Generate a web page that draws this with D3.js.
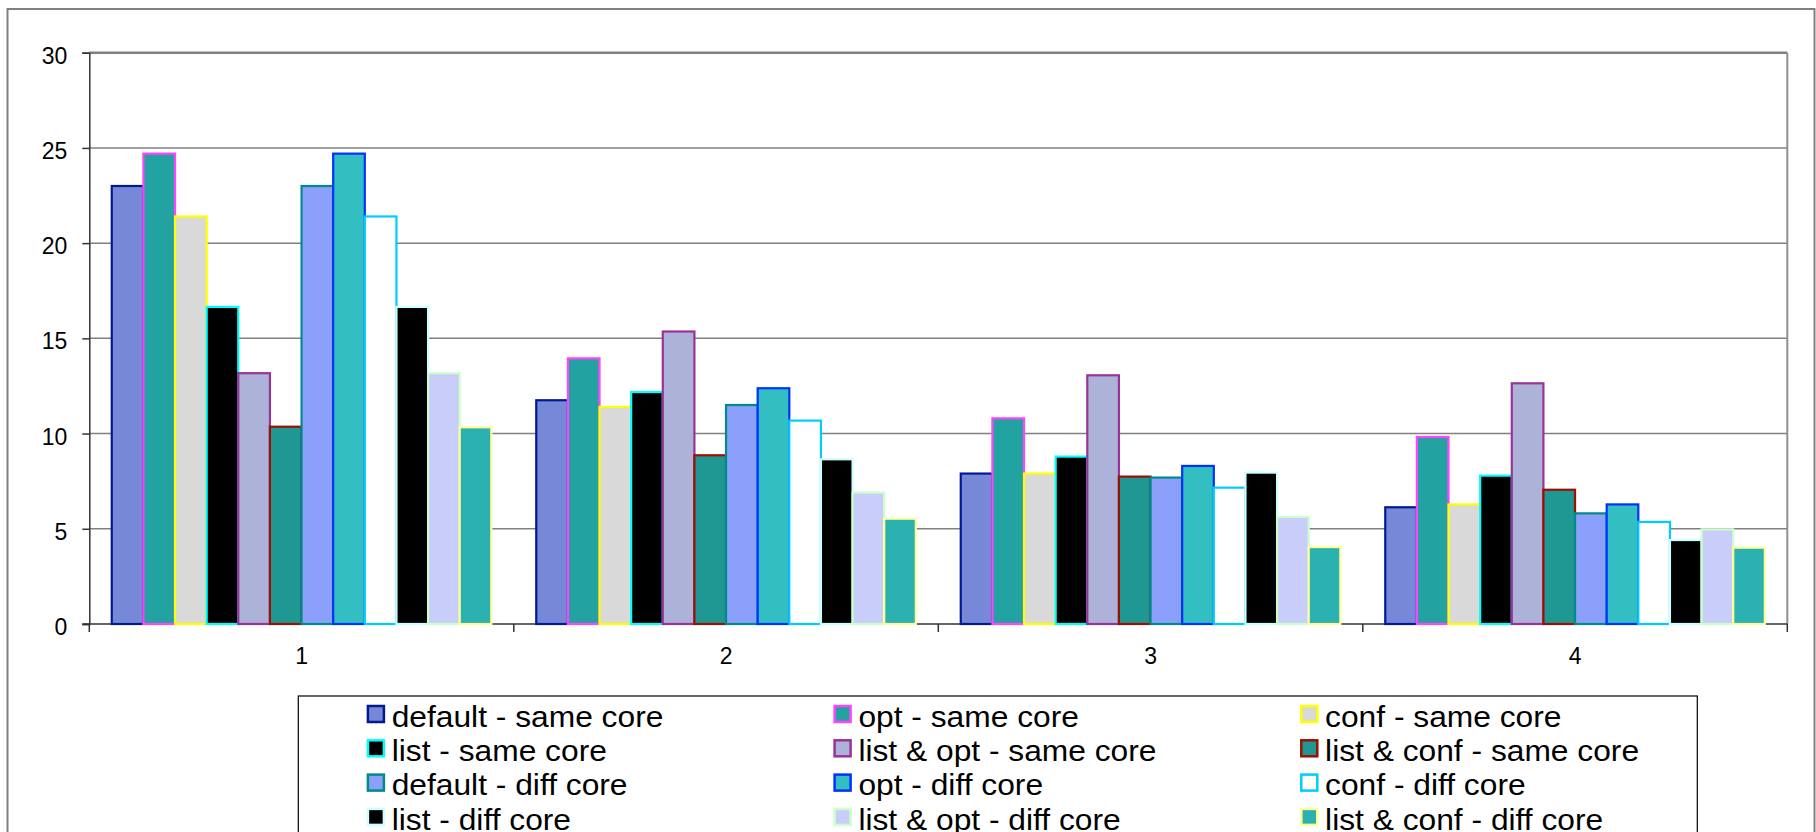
<!DOCTYPE html>
<html>
<head>
<meta charset="utf-8">
<script src="https://cdn.jsdelivr.net/npm/d3@7"></script>
<style>
  html, body { margin: 0; padding: 0; background: #fff; }
  svg { display: block; }
  text { font-family: "Liberation Sans", Arial, sans-serif; fill: #000; }
</style>
</head>
<body>
<svg id="chart" width="1816" height="832"></svg>
<script>
// Categories along the x axis
const categories = ["1", "2", "3", "4"];

// Series names (legend order)
const seriesNames = [
  "default - same core", "opt - same core", "conf - same core",
  "list - same core", "list & opt - same core", "list & conf - same core",
  "default - diff core", "opt - diff core", "conf - diff core",
  "list - diff core", "list & opt - diff core", "list & conf - diff core"
];

// Values per series, one entry per category
const defaultSame  = [23.0, 11.75, 7.9, 6.13];
const optSame      = [24.7, 13.95, 10.8, 9.82];
const confSame     = [21.4, 11.4, 7.9, 6.28];
const listSame     = [16.65, 12.18, 8.79, 7.79];
const listOptSame  = [13.17, 15.36, 13.06, 12.64];
const listConfSame = [10.36, 8.86, 7.74, 7.05];
const defaultDiff  = [23.0, 11.5, 7.69, 5.81];
const optDiff      = [24.7, 12.38, 8.3, 6.28];
const confDiff     = [21.4, 10.68, 7.16, 5.36];
const listDiff     = [16.65, 8.65, 7.95, 4.41];
const listOptDiff  = [13.17, 6.9, 5.62, 4.97];
const listConfDiff = [10.33, 5.53, 4.04, 4.01];

const seriesValues = [
  defaultSame, optSame, confSame, listSame, listOptSame, listConfSame,
  defaultDiff, optDiff, confDiff, listDiff, listOptDiff, listConfDiff
];

// Fill and border colour of each series
const fills = ["#7888d8", "#22a3a1", "#d9d9d9", "#000000", "#adb2d9", "#1f9894",
               "#8aa0fa", "#33bfc1", "#ffffff", "#000000", "#c9cdfa", "#2cb1b1"];
const strokes = ["#001a90", "#ff44ff", "#ffff00", "#00ffff", "#993399", "#991100",
                 "#008b8b", "#0033ff", "#00ccff", "#ccffff", "#ccffcc", "#ffff99"];

// Y axis ticks
const yTicks = [0, 5, 10, 15, 20, 25, 30];

const svg = d3.select("#chart");

// Outer chart frame
svg.append("rect")
  .attr("x", 7.5).attr("y", 9)
  .attr("width", 1807).attr("height", 900)
  .attr("fill", "#fff").attr("stroke", "#808080").attr("stroke-width", 2);

const plot = { left: 89.3, right: 1787.3, top: 52.7, bottom: 624 };

const x0 = d3.scaleBand().domain(categories).range([plot.left, plot.right]).padding(0);
const x1 = d3.scaleBand().domain(d3.range(seriesNames.length))
  .range([0, x0.bandwidth()]).paddingInner(0).paddingOuter(0.71);
const y = d3.scaleLinear().domain([0, 30]).range([plot.bottom, plot.top]);

// Horizontal gridlines
svg.append("g").selectAll("line")
  .data(yTicks.filter(d => d > 0))
  .join("line")
  .attr("x1", plot.left).attr("x2", plot.right)
  .attr("y1", d => y(d)).attr("y2", d => y(d))
  .attr("stroke", "#808080").attr("stroke-width", d => d === 30 ? 2.5 : 1.5);

// Right border of the plot area
svg.append("line")
  .attr("x1", plot.right).attr("x2", plot.right)
  .attr("y1", plot.top).attr("y2", plot.bottom)
  .attr("stroke", "#909090").attr("stroke-width", 2);

// Y axis
const yAxis = svg.append("g")
  .attr("transform", `translate(${plot.left},0)`)
  .call(d3.axisLeft(y).tickValues(yTicks).tickSize(7).tickPadding(15).tickFormat(d3.format("d")));
yAxis.select(".domain").attr("stroke", "#333").attr("stroke-width", 1.5);
yAxis.selectAll(".tick line").attr("stroke", "#333").attr("stroke-width", 1.5);
yAxis.selectAll(".tick text")
  .attr("font-size", 23).attr("dy", "0.46em")
  .style("font-family", '"Liberation Sans", Arial, sans-serif').attr("fill", "#000");

// X axis baseline and category boundary ticks
svg.append("line")
  .attr("x1", plot.left - 7).attr("x2", plot.right)
  .attr("y1", plot.bottom).attr("y2", plot.bottom)
  .attr("stroke", "#333").attr("stroke-width", 1.5);
const bounds = categories.map(c => x0(c)).concat([plot.right]);
svg.append("g").selectAll("line")
  .data(bounds)
  .join("line")
  .attr("x1", d => d).attr("x2", d => d)
  .attr("y1", plot.bottom).attr("y2", plot.bottom + 8)
  .attr("stroke", "#333").attr("stroke-width", 1.5);

// Category labels
svg.append("g").selectAll("text")
  .data(categories)
  .join("text")
  .attr("x", d => x0(d) + x0.bandwidth() / 2)
  .attr("y", plot.bottom + 40)
  .attr("text-anchor", "middle")
  .attr("font-size", 23)
  .text(d => d);

// Bars
const groups = svg.append("g").selectAll("g")
  .data(seriesValues)
  .join("g")
  .attr("fill", (d, i) => fills[i])
  .attr("stroke", (d, i) => strokes[i])
  .attr("stroke-width", 2.2);

groups.each(function (vals, si) {
  d3.select(this).selectAll("rect")
    .data(vals)
    .join("rect")
    .attr("x", (v, ci) => x0(categories[ci]) + x1(si))
    .attr("y", v => y(v))
    .attr("width", x1.bandwidth())
    .attr("height", v => y(0) - y(v));
});

// Legend
const legend = { left: 298.3, top: 696, right: 1697.3 };
svg.append("rect")
  .attr("x", legend.left).attr("y", legend.top)
  .attr("width", legend.right - legend.left).attr("height", 300)
  .attr("fill", "#fff").attr("stroke", "#000").attr("stroke-width", 1.2);

const colStep = 466.7, rowStep = 34.3;
const items = svg.append("g").selectAll("g")
  .data(seriesNames)
  .join("g")
  .attr("transform", (d, i) =>
    `translate(${legend.left + 68.4 + (i % 3) * colStep},${legend.top + 18 + Math.floor(i / 3) * rowStep})`);

items.append("rect")
  .attr("x", 1.2).attr("y", -8)
  .attr("width", 16).attr("height", 16)
  .attr("fill", (d, i) => fills[i])
  .attr("stroke", (d, i) => strokes[i])
  .attr("stroke-width", 2.5);

items.append("text")
  .attr("transform", "translate(25,12.7) scale(1.095,1)")
  .attr("font-size", 29)
  .text(d => d);
</script>
</body>
</html>
